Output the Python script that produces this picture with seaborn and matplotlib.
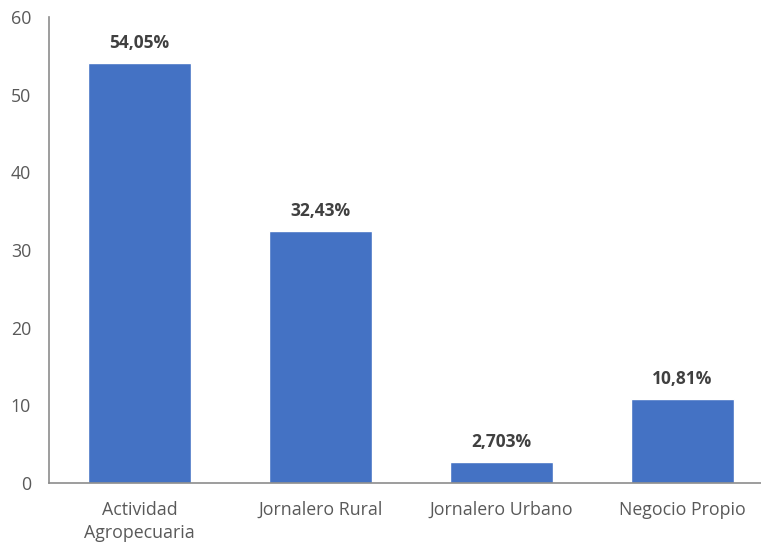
import matplotlib
matplotlib.use("Agg")
import matplotlib.pyplot as plt
import seaborn as sns
import pandas as pd

categories = ["Actividad\nAgropecuaria", "Jornalero Rural", "Jornalero Urbano", "Negocio Propio"]
values = [54.05, 32.43, 2.703, 10.81]
labels = ["54,05%", "32,43%", "2,703%", "10,81%"]
yticks = [0, 10, 20, 30, 40, 50, 60]

sns.set_theme(style="white")
plt.rcParams['font.family'] = ['Open Sans', 'DejaVu Sans']

df = pd.DataFrame({"cat": categories, "val": values})

fig = plt.figure(figsize=(7.61, 5.43), dpi=100)
ax = fig.add_axes([49/761, 60/543, (761-49)/761, (483-17)/543])
sns.barplot(data=df, x="cat", y="val", color="#4472C4", saturation=1, width=0.57, ax=ax)

for i, (v, t) in enumerate(zip(values, labels)):
    ax.text(i, v + 1.4, t, ha="center", va="bottom", fontsize=12.5,
            fontweight="bold", color="#404040")

ax.set_ylim(0, 60)
ax.set_xlim(-0.5, 3.434)
ax.set_yticks(yticks)
ax.set_yticklabels([str(y) for y in yticks])
ax.set_xlabel("")
ax.set_ylabel("")
ax.tick_params(axis="both", length=0, labelsize=12.8, colors="#595959")
ax.tick_params(axis="y", pad=13)
ax.tick_params(axis="x", pad=13)
for lbl in ax.get_xticklabels():
    lbl.set_linespacing(1.35)
for s in ["top", "right"]:
    ax.spines[s].set_visible(False)
for s in ["left", "bottom"]:
    ax.spines[s].set_color("#8c8c8c")
    ax.spines[s].set_linewidth(1.2)

fig.savefig("out.png", dpi=100)
